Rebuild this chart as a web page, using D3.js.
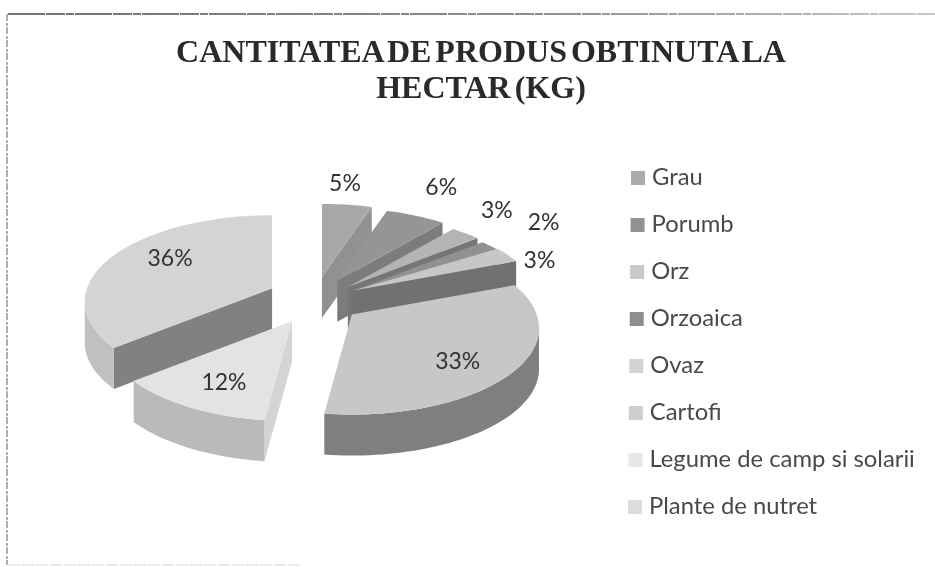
<!DOCTYPE html>
<html><head><meta charset="utf-8">
<script src="https://cdn.jsdelivr.net/npm/d3@7"></script>
<style>html,body{margin:0;padding:0;background:#fff}svg{display:block}</style>
</head><body><div id="c"></div>
<script>
const categories = ["Grau","Porumb","Orz","Orzoaica","Ovaz","Cartofi","Legume de camp si solarii","Plante de nutret"];
const values = [5,6,3,2,3,33,12,36];
const titleLines = ["CANTITATEA DE PRODUS OBTINUTA LA","HECTAR (KG)"];
const topColors  = ["#a6a9a7","#939694","#b2b5b3","#8f9290","#c6c8c7","#c6c8c8","#e2e3e3","#d3d4d4"];
const cutColors  = ["#8f9290","#7a7d7b","#747775","#6e716f","#6f7270","#c6c8c8","#d3d5d5","#7f8280"];
const rimColors  = ["#999","#888","#999","#888","#999","#7d807e","#b9bbba","#bfc1c1"];
const legendColors = ["#a9aca9","#909391","#c8cac8","#8c8f8d","#d2d4d4","#cdcfcf","#e6e7e7","#dcdddd"];
const labelShift = [[23,-89],[104,-88],[149,-69],[191,-60],[183,-25],[106,49],[-68,63],[-102,-28]];
const sliceNudge = [[0,3],[0,4],[0,6],[0,7],[-3,3],[0,0],[0,0],[0,0]];

const W=935,H=567;
const svg=d3.select("#c").append("svg").attr("width",W).attr("height",H).attr("viewBox",`0 0 ${W} ${H}`);
const defs=svg.append("defs");
defs.append("filter").attr("id","scan").attr("x","-5%").attr("y","-5%").attr("width","110%").attr("height","110%")
  .append("feGaussianBlur").attr("stdDeviation",0.7);
defs.append("filter").attr("id","soft").attr("filterUnits","userSpaceOnUse").attr("x",0).attr("y",0).attr("width",W).attr("height",H)
  .append("feGaussianBlur").attr("stdDeviation",0.45);
const fade=defs.append("linearGradient").attr("id","fade").attr("gradientUnits","userSpaceOnUse").attr("x1",8).attr("x2",W).attr("y1",0).attr("y2",0);
fade.append("stop").attr("offset",0).attr("stop-color","#444");
fade.append("stop").attr("offset",0.55).attr("stop-color","#666");
fade.append("stop").attr("offset",1).attr("stop-color","#b5b5b5");

// scan frame
const frame=svg.append("g").attr("filter","url(#soft)").attr("fill","none");
frame.append("line").attr("x1",8).attr("x2",W).attr("y1",14).attr("y2",14).attr("stroke","url(#fade)").attr("stroke-width",1.3).attr("stroke-dasharray","37 1 19 1 8 1");
frame.append("line").attr("x1",7).attr("x2",7).attr("y1",14).attr("y2",H-2).attr("stroke","#777").attr("stroke-width",1.2).attr("stroke-dasharray","7 2 3 1");
frame.append("line").attr("x1",8).attr("x2",300).attr("y1",565).attr("y2",565).attr("stroke","#d8d8d8").attr("stroke-width",1.1).attr("stroke-dasharray","12 2");

// title
const title=svg.append("g").attr("filter","url(#soft)");
title.selectAll("text").data(titleLines).join("text")
  .attr("x",481).attr("y",(d,i)=>62+i*36).attr("text-anchor","middle")
  .attr("font-family","'Liberation Serif',serif").attr("font-weight","bold").attr("font-size",32)
  .attr("word-spacing",-4).attr("fill","#2b2b2b").text(d=>d);

// pie geometry
const cx=314.6, cy=299, rx=185, ry=84.4, persp=0.156, explode=47, explodeY=0.54, depth=41;
const arcs=d3.pie().sort(null).startAngle(0).endAngle(2*Math.PI)(values);
const proj=(apex,t,r=1,dz=0)=>{
  const u=Math.sin(t)*r, v=-Math.cos(t)*r, w=1-persp*v;
  return [apex[0]+rx*u/w, apex[1]+ry*v/w+dz];
};
const line=d3.line();
const seq=(a,b)=>{const n=Math.max(2,Math.ceil((b-a)/0.03));return d3.range(n+1).map(i=>a+(b-a)*i/n);};
const slices=arcs.map((a,i)=>{
  const mid=(a.startAngle+a.endAngle)/2;
  const base=[cx+explode*Math.sin(mid),cy-explode*explodeY*Math.cos(mid)];
  return {i,a,mid,base,apex:[base[0]+sliceNudge[i][0],base[1]+sliceNudge[i][1]]};
});
const order=slices.slice().sort((p,q)=>(-Math.cos(p.mid))-(-Math.cos(q.mid)));
const pieG=svg.append("g").attr("filter","url(#scan)");
const tR=Math.acos(-persp), tL=2*Math.PI-tR;
order.forEach(s=>{
  const g=pieG.append("g"), {apex,a}=s;
  const cut=t=>[apex,proj(apex,t),proj(apex,t,1,depth),[apex[0],apex[1]+depth]];
  if(Math.sin(a.startAngle)<-1e-6) g.append("path").attr("d",line(cut(a.startAngle))+"Z").attr("fill",cutColors[s.i]);
  if(Math.sin(a.endAngle)>1e-6) g.append("path").attr("d",line(cut(a.endAngle))+"Z").attr("fill",cutColors[s.i]);
  const lo=Math.max(a.startAngle,tR), hi=Math.min(a.endAngle,tL);
  if(hi>lo){
    const ts=seq(lo,hi);
    g.append("path").attr("d",line(ts.map(t=>proj(apex,t)).concat(ts.slice().reverse().map(t=>proj(apex,t,1,depth))))+"Z").attr("fill",rimColors[s.i]);
  }
  g.append("path").attr("d",line([apex].concat(seq(a.startAngle,a.endAngle).map(t=>proj(apex,t))))+"Z").attr("fill",topColors[s.i]);
});

// data labels
const fmt=d3.format(".0f");
const lab=svg.append("g").attr("filter","url(#soft)");
lab.selectAll("text").data(slices).join("text")
  .attr("x",s=>s.base[0]+labelShift[s.i][0]).attr("y",s=>s.base[1]+labelShift[s.i][1])
  .attr("text-anchor","middle").attr("dominant-baseline","middle")
  .attr("font-family","Lato,'Open Sans',sans-serif").attr("font-size",23).attr("fill","#333")
  .text(s=>fmt(s.a.value)+"%");

// legend
const ly=d3.scalePoint().domain(categories).range([178,507]);
const lx=d3.scalePoint().domain(categories).range([631,628]);
const leg=svg.append("g").attr("filter","url(#soft)").selectAll("g").data(categories).join("g")
  .attr("transform",d=>`translate(${lx(d)},${ly(d)})`);
leg.append("rect").attr("x",0).attr("y",-7).attr("width",14).attr("height",14).attr("fill",(d,i)=>legendColors[i]);
leg.append("text").attr("x",21).attr("y",1).attr("dominant-baseline","middle")
  .attr("font-family","Lato,'Open Sans',sans-serif").attr("font-size",23.8).attr("fill","#4a4a4a").text(d=>d);
</script></body></html>
